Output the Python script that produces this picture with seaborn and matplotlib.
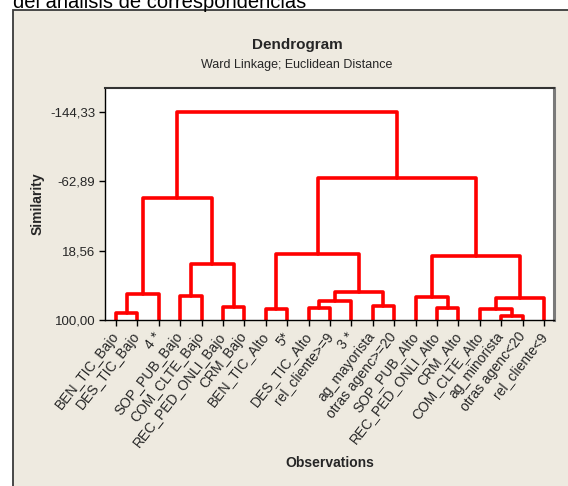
import numpy as np
import pandas as pd
import matplotlib
matplotlib.use('Agg')
import matplotlib.pyplot as plt
from matplotlib.patches import Rectangle
import seaborn as sns

# leaves in dendrogram order
leaves = ['BEN_TIC_Bajo', 'DES_TIC_Bajo', '4 *', 'SOP_PUB_Bajo', 'COM_CLTE_Bajo',
          'REC_PED_ONLI_Bajo', 'CRM_Bajo', 'BEN_TIC_Alto', '5*', 'DES_TIC_Alto',
          'rel_cliente>=9', '3 *', 'ag_mayorista', 'otras agenc>=20', 'SOP_PUB_Alto',
          'REC_PED_ONLI_Alto', 'CRM_Alto', 'COM_CLTE_Alto', 'ag_minorista',
          'otras agenc<20', 'rel_cliente<9']

# linkage: node 21+i joins merge_left[i] and merge_right[i] at similarity[i]
merge_left = [0, 21, 3, 5, 23, 22, 7, 9, 28, 12, 29, 27, 15, 14, 18, 17, 36, 34, 32, 26]
merge_right = [1, 2, 4, 6, 24, 25, 8, 10, 11, 13, 30, 31, 16, 33, 19, 35, 20, 37, 38, 39]
similarity = [92.1, 69.5, 71.5, 85.1, 34.3, -42.7, 87.5, 86.3, 77.7, 83.4,
              67.5, 22.9, 86.3, 72.7, 95.3, 87.5, 74.6, 24.6, -66.2, -144.33]

y_ticks = [-144.33, -62.89, 18.56, 100.00]
y_tick_labels = ['-144,33', '-62,89', '18,56', '100,00']

sns.set_theme(style="white")
plt.rcParams['font.family'] = ['Liberation Sans', 'DejaVu Sans']

# build the link segments
n = len(leaves)
pos = {i: (float(i), 100.0) for i in range(n)}
rows = []
for k, (a, b, h) in enumerate(zip(merge_left, merge_right, similarity)):
    xa, ya = pos[a]
    xb, yb = pos[b]
    for order, (x, y) in enumerate([(xa, ya), (xa, h), (xb, h), (xb, yb)]):
        rows.append({'link': k, 'order': order, 'x': x, 'y': y})
    pos[n + k] = ((xa + xb) / 2, h)
links = pd.DataFrame(rows)

W, H = 568, 486
fig = plt.figure(figsize=(W / 100, H / 100), dpi=100)
fig.patch.set_facecolor('white')

panel = Rectangle((13 / W, -0.1), 1.2, 1.1 - 10 / H + 0.0, transform=fig.transFigure,
                  facecolor='#eeeae0', edgecolor='#3a3a3a', linewidth=1.3, zorder=0)
fig.add_artist(panel)

fig.text(13 / W, 1 - 7.5 / H, 'del análisis de correspondencias', fontsize=14.5,
         va='baseline', ha='left', color='black')

ax = fig.add_axes([105 / W, 1 - 320 / H, 449 / W, 232 / H])
ax.set_facecolor('white')

sns.lineplot(data=links, x='x', y='y', units='link', estimator=None, sort=False,
             color='#ff0000', linewidth=2.6, ax=ax, legend=False)

ax.set_xlim(-0.51, 20.47)
ax.set_ylim(100, -172.1)
ax.set_xticks(range(n))
ax.set_xticklabels(leaves, rotation=52, ha='right', va='center',
                   rotation_mode='anchor', fontsize=10)
ax.set_yticks(y_ticks)
ax.set_yticklabels(y_tick_labels, fontsize=9.5)
ax.tick_params(axis='both', which='both', direction='out', length=4, width=1,
               color='black', left=True, bottom=True, pad=3)
ax.tick_params(axis='x', pad=6)
ax.set_xlabel('')
ax.set_ylabel('')

for side in ['left', 'bottom']:
    ax.spines[side].set_color('black')
    ax.spines[side].set_linewidth(1.0)
ax.spines['top'].set_color('#333333')
ax.spines['top'].set_linewidth(1.5)
ax.spines['right'].set_color('#7a7a7a')
ax.spines['right'].set_linewidth(2.2)

fig.text(297 / W, 1 - 45 / H, 'Dendrogram', fontsize=11, fontweight='bold',
         ha='center', va='center')
fig.text(297 / W, 1 - 65 / H, 'Ward Linkage; Euclidean Distance', fontsize=9,
         ha='center', va='center')
fig.text(38 / W, 1 - 204 / H, 'Similarity', fontsize=10, fontweight='bold',
         rotation=90, ha='center', va='center')
fig.text(329.5 / W, 1 - 463 / H, 'Observations', fontsize=10, fontweight='bold',
         ha='center', va='center')

fig.savefig('out.png', dpi=100)
